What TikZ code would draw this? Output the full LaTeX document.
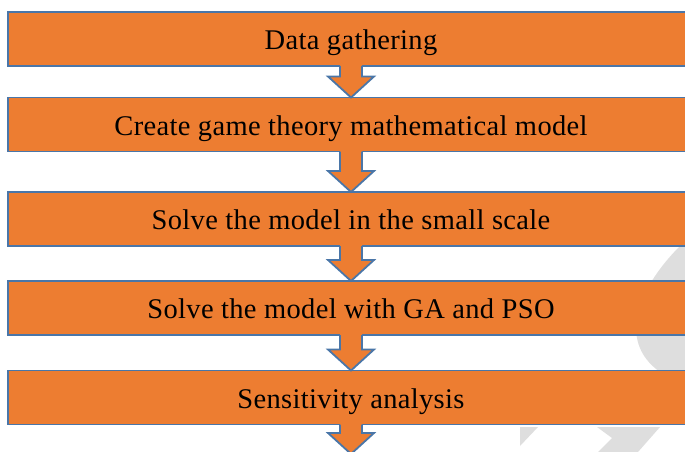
\documentclass[tikz,border=0pt]{standalone}
\usepackage{fontspec}
\setmainfont{Liberation Serif}[LetterSpace=1.2]
\usetikzlibrary{calc}
\definecolor{boxorange}{HTML}{ED7D31}
\definecolor{boxborder}{HTML}{4A76A8}
\definecolor{wmgray}{HTML}{DEDEDE}
\tikzset{
  stepbox/.style={rectangle, fill=boxorange, draw=boxborder, line width=1.8pt,
    minimum width=686pt, minimum height=54pt, outer sep=0pt, inner sep=0pt,
    text height=27pt, text depth=6pt,
    font=\fontsize{28.5}{32}\selectfont, text=black},
  arrowfill/.style={fill=boxorange},
  arrowline/.style={draw=boxborder, line width=1.8pt, line join=miter},
  watermark/.style={fill=wmgray}
}
\newcommand\blockarrow[2]{%
  \path let \p1=(#1.south), \p2=(#2) in
    [arrowfill] (\x1-11pt,\y1+1.6pt) -- (\x1-11pt,\y2+21pt) -- (\x1-23pt,\y2+21pt) -- (\x1,\y2)
      -- (\x1+23pt,\y2+21pt) -- (\x1+11pt,\y2+21pt) -- (\x1+11pt,\y1+1.6pt) -- cycle;
  \path let \p1=(#1.south), \p2=(#2) in
    [arrowline] (\x1-11pt,\y1) -- (\x1-11pt,\y2+21pt) -- (\x1-23pt,\y2+21pt) -- (\x1,\y2)
      -- (\x1+23pt,\y2+21pt) -- (\x1+11pt,\y2+21pt) -- (\x1+11pt,\y1);
}
\begin{document}
\begin{tikzpicture}[x=1pt,y=-1pt]
\useasboundingbox (0,0) rectangle (685,452);
\clip (0,0) rectangle (685,452);
% watermark
\fill[watermark] (682,244) .. controls (640,285) and (615,340) .. (660,372) -- (690,372) -- (690,244) -- cycle;
\fill[watermark] (520,446) -- (538,427) -- (520,427) -- cycle;
\fill[watermark] (597,427) -- (660,427) -- (638,452) -- (598,452) -- (612,438) -- cycle;
% boxes
\node[stepbox] (b1) at (351,39) {Data gathering};
\node[stepbox] (b2) at (351,124.5) {Create game theory mathematical model};
\node[stepbox] (b3) at (351,219) {Solve the model in the small scale};
\node[stepbox] (b4) at (351,308) {Solve the model with GA and PSO};
\node[stepbox] (b5) at (351,397.5) {Sensitivity analysis};
\coordinate (end) at (351,454);
% arrows
\blockarrow{b1}{b2.north}
\blockarrow{b2}{b3.north}
\blockarrow{b3}{b4.north}
\blockarrow{b4}{b5.north}
\blockarrow{b5}{end}
\end{tikzpicture}
\end{document}
